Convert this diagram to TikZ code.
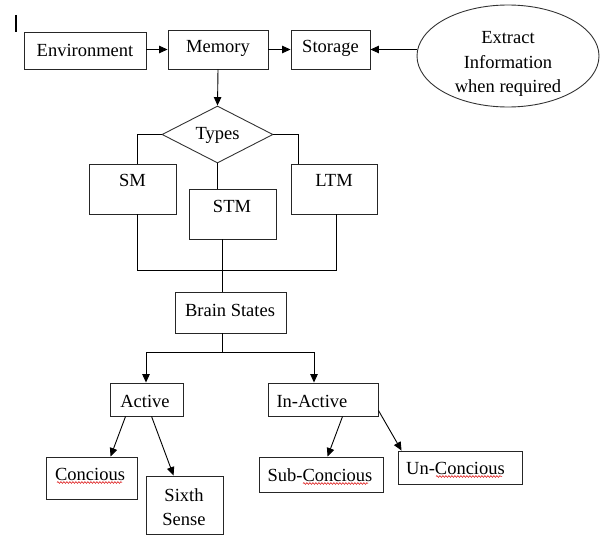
\documentclass[tikz,border=0pt]{standalone}
\usepackage{fontspec}
\setmainfont{Liberation Serif}
\usetikzlibrary{arrows.meta,shapes.geometric,calc,decorations.pathmorphing}
\begin{document}
\begin{tikzpicture}[x=1pt,y=-1pt,
  every node/.style={font=\fontsize{18.5}{24.5}\selectfont},
  box/.style={draw=black!85,line width=0.9pt,rectangle,inner sep=0pt},
  txt/.style={inner sep=0pt,align=center},
  ln/.style={draw=black,line width=0.9pt},
  arr/.style={ln,-{Triangle[length=8.5pt,width=7.5pt]}},
  wavy/.style={draw=red!85!black,line width=0.5pt,decorate,decoration={snake,amplitude=0.9pt,segment length=3pt}}]
\useasboundingbox (0,0) rectangle (608,535);
% cursor mark
\draw[line width=1.6pt] (16,15) -- (16,32);
% top row
\node[box,minimum width=122,minimum height=37] (env) at (85,50.5) {};
\node[txt] (envt) at (85,50) {Environment};
\node[box,minimum width=100,minimum height=39] (mem) at (218,49.5) {};
\node[txt] (memt) at (218,48) {Memory};
\node[box,minimum width=79,minimum height=39] (sto) at (330.5,49.5) {};
\node[txt] (stot) at (330.5,48) {Storage};
\node[draw=black!80,line width=0.9pt,ellipse,minimum width=182,minimum height=102,inner sep=0pt] (ell) at (508,56) {};
\node[txt] (ellt) at (508,64) {Extract\\Information\\when required};
% types
\node[draw=black!80,line width=0.9pt,diamond,minimum width=111,minimum height=57,inner sep=0pt] (types) at (217.5,134.5) {};
\node[txt] (typest) at (217.5,135) {Types};
\node[box,minimum width=87,minimum height=50] (sm) at (132.5,189) {};
\node[txt] (smt) at (132.5,180) {SM};
\node[box,minimum width=87,minimum height=50] (stm) at (232.5,214) {};
\node[txt] (stmt) at (232,206) {STM};
\node[box,minimum width=86,minimum height=50] (ltm) at (334,189) {};
\node[txt] (ltmt) at (334,180) {LTM};
\node[box,minimum width=111,minimum height=41] (bs) at (230.5,312.5) {};
\node[txt] (bst) at (230,310) {Brain States};
% states
\node[box,minimum width=73,minimum height=33] (act) at (146.5,399.5) {};
\node[txt] (actt) at (145,401) {Active};
\node[box,minimum width=110,minimum height=33] (ina) at (323,399.5) {};
\node[txt] (inat) at (312,401) {In-Active};
\node[box,minimum width=91,minimum height=42] (con) at (91.5,478) {};
\node[txt] (cont) at (90,474) {Concious};
\node[box,minimum width=77,minimum height=58] (six) at (184.5,505) {};
\node[txt] (sixt) at (184,507) {Sixth\\Sense};
\node[box,minimum width=124,minimum height=35] (sub) at (321,474.5) {};
\node[txt] (subt) at (320,475) {Sub-Concious};
\node[box,minimum width=124,minimum height=33] (un) at (460,467.5) {};
\node[txt] (unt) at (455.5,468) {Un-Concious};
% spell-check underlines
\draw[wavy] (57,482.5) -- (122,482.5);
\draw[wavy] (303,483.5) -- (368,483.5);
\draw[wavy] (436,476.5) -- (502,476.5);
% connectors top
\draw[arr] (env.east |- mem.west) -- (mem.west);
\draw[arr] (mem.east) -- (sto.west);
\draw[arr] (ell.west |- sto.east) -- (sto.east);
\draw[arr] (mem.south) -- (types.north);
% types branches
\coordinate (jl) at (137,270);
\coordinate (jr) at (336,270);
\coordinate (jc) at (222,270);
\draw[ln] (types.west) -| (sm.north -| jl);
\draw[ln] (types.east) -| ($(ltm.north west)+(8,0)$);
\draw[ln] (types.south) -- (types.south |- stm.north);
\draw[ln] (sm.south -| jl) -- (jl) -- (jr) -- (ltm.south -| jr);
\draw[ln] (stm.south -| jc) -- (bs.north -| jc);
% brain states branches
\coordinate (ja) at (146,352);
\coordinate (jb) at (314,352);
\draw[ln] (bs.south -| jc) -- (ja -| jc);
\draw[ln] (ja) -- (jb);
\draw[arr] (ja) -- (act.north -| ja);
\draw[arr] (jb) -- (ina.north -| jb);
% leaves
\draw[arr] ($(act.south west)+(16,0)$) -- ($(con.north west)+(65,0)$);
\draw[arr] ($(act.south west)+(42,0)$) -- ($(six.north west)+(28,0)$);
\draw[arr] ($(ina.south west)+(75,0)$) -- ($(sub.north west)+(69,0)$);
\draw[arr] ($(ina.south east)+(0,-6)$) -- ($(un.north west)+(4,0)$);
\end{tikzpicture}
\end{document}
